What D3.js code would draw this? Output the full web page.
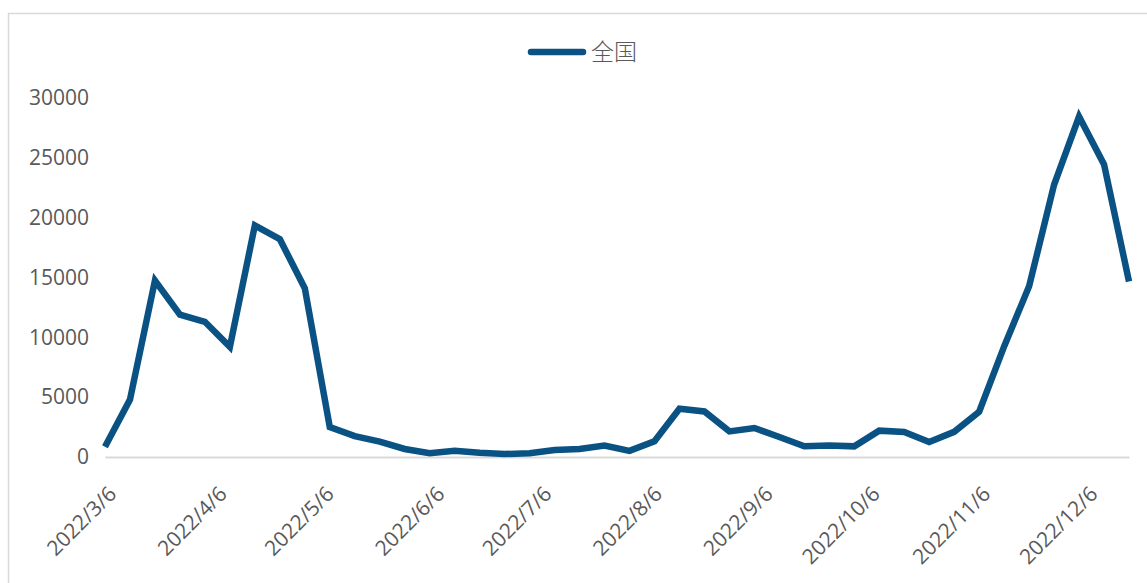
<!DOCTYPE html>
<html>
<head>
<meta charset="utf-8">
<script src="https://cdn.jsdelivr.net/npm/d3@7"></script>
<style>
  body { margin: 0; background: #fff; }
  .axisText { font-family: "Open Sans", sans-serif; font-size: 21px; fill: #595959; }
</style>
</head>
<body>
<script>
//Weekly line chart, 2022

//Data
var seriesName = "全国";

var weekDates = [
    "2022/3/6", "2022/3/13", "2022/3/20", "2022/3/27", "2022/4/3", "2022/4/10",
    "2022/4/17", "2022/4/24", "2022/5/1", "2022/5/8", "2022/5/15", "2022/5/22",
    "2022/5/29", "2022/6/5", "2022/6/12", "2022/6/19", "2022/6/26", "2022/7/3",
    "2022/7/10", "2022/7/17", "2022/7/24", "2022/7/31", "2022/8/7", "2022/8/14",
    "2022/8/21", "2022/8/28", "2022/9/4", "2022/9/11", "2022/9/18", "2022/9/25",
    "2022/10/2", "2022/10/9", "2022/10/16", "2022/10/23", "2022/10/30", "2022/11/6",
    "2022/11/13", "2022/11/20", "2022/11/27", "2022/12/4", "2022/12/11", "2022/12/18"
];

var weekValues = [
    860, 4800, 14750, 11900, 11300, 9200,
    19350, 18200, 14100, 2500, 1750, 1280,
    670, 310, 530, 360, 250, 310,
    590, 670, 950, 510, 1320, 4040,
    3810, 2140, 2420, 1670, 890, 970,
    890, 2200, 2090, 1250, 2100, 3780,
    9240, 14260, 22750, 28450, 24450, 14670
];

var xTickLabels = ["2022/3/6", "2022/4/6", "2022/5/6", "2022/6/6", "2022/7/6",
                   "2022/8/6", "2022/9/6", "2022/10/6", "2022/11/6", "2022/12/6"];

var yTickValues = [0, 5000, 10000, 15000, 20000, 25000, 30000];

//Size and margins
var svgwidth = 1147;
var svgheight = 583;

var margin = {
    top: 98,
    right: 18,
    bottom: 126,
    left: 105,
}

var width = svgwidth - margin.left - margin.right;
var height = svgheight - margin.top - margin.bottom;

var parseDate = d3.timeParse("%Y/%-m/%-d");

var data = weekDates.map(function(d, i) {
    return { date: parseDate(d), value: weekValues[i] };
});

var svg = d3.select("body")
            .append("svg")
            .attr("width", svgwidth)
            .attr("height", svgheight);

//Outer chart frame
svg.append("rect")
    .attr("x", 8.5)
    .attr("y", 13.5)
    .attr("width", svgwidth)
    .attr("height", svgheight)
    .attr("fill", "none")
    .attr("stroke", "#d9d9d9")
    .attr("stroke-width", 1.5);

var chartGroup = svg.append("g")
                .attr("transform", `translate(${margin.left}, ${margin.top})`);

//Scales
var xTimeScale = d3.scaleTime()
        .domain(d3.extent(data, d => d.date))
        .range([0, width]);

var yLinearScale = d3.scaleLinear()
        .domain([0, 30000])
        .range([height, 0]);

//Left axis: labels only
var leftAxis = d3.axisLeft(yLinearScale)
        .tickValues(yTickValues)
        .tickSize(0)
        .tickPadding(16)
        .tickFormat(d3.format("d"));

var yAxisGroup = chartGroup.append("g")
        .call(leftAxis);
yAxisGroup.select(".domain").remove();
yAxisGroup.selectAll("text")
        .attr("class", "axisText")
        .attr("font-family", null)
        .attr("font-size", null)
        .attr("fill", null);

//Bottom axis
var bottomAxis = d3.axisBottom(xTimeScale)
        .tickValues(xTickLabels.map(parseDate))
        .tickSize(0)
        .tickFormat(d3.timeFormat("%Y/%-m/%-d"));

var xAxisGroup = chartGroup.append("g")
        .attr("transform", `translate(0, ${height})`)
        .call(bottomAxis);
xAxisGroup.select(".domain")
        .attr("stroke", "#d9d9d9")
        .attr("stroke-width", 2);
xAxisGroup.selectAll("text")
        .attr("class", "axisText")
        .attr("font-family", null)
        .attr("font-size", null)
        .attr("fill", null)
        .attr("text-anchor", "end")
        .attr("x", 0)
        .attr("y", 0)
        .attr("dy", "0.35em")
        .attr("transform", "translate(7, 33) rotate(-45)");

//Line
var line = d3.line()
        .x(d => xTimeScale(d.date))
        .y(d => yLinearScale(d.value));

chartGroup.append("path")
        .datum(data)
        .attr("d", line)
        .attr("fill", "none")
        .attr("stroke", "#0a5283")
        .attr("stroke-width", 6.5)
        .attr("stroke-linejoin", "miter")
        .attr("stroke-linecap", "butt");

//Legend
var legend = svg.append("g")
        .attr("transform", "translate(528, 52)");

legend.append("line")
        .attr("x1", 3)
        .attr("x2", 55)
        .attr("y1", 0)
        .attr("y2", 0)
        .attr("stroke", "#0a5283")
        .attr("stroke-width", 6.5)
        .attr("stroke-linecap", "round");

legend.append("text")
        .attr("x", 63)
        .attr("y", 0)
        .attr("dy", "0.36em")
        .attr("font-family", "'Noto Sans CJK SC', sans-serif")
        .attr("font-size", "23px")
        .attr("font-weight", 300)
        .attr("fill", "#595959")
        .text(seriesName);
</script>
</body>
</html>
